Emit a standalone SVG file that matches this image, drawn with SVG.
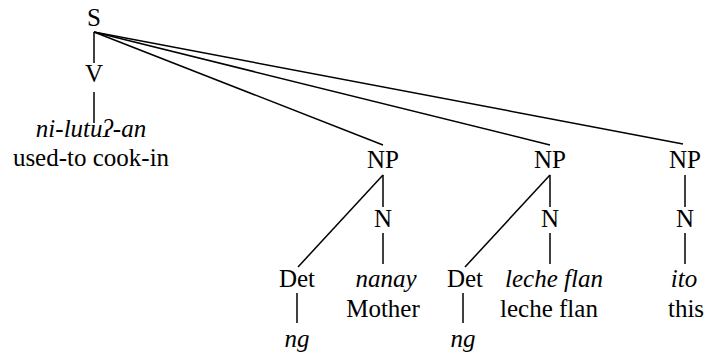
<svg xmlns="http://www.w3.org/2000/svg" width="705" height="356" viewBox="0 0 705 356">
<style>
text{font-family:"Liberation Serif","Times New Roman",serif;font-size:25px;fill:#000;text-anchor:middle}
.i{font-style:italic}
line{stroke:#000;stroke-width:1.5;fill:none}
</style>
<rect width="705" height="356" fill="#fff"/>
<g id="connectors">
<line x1="94" y1="32" x2="94" y2="63"/>
<line x1="94" y1="92" x2="94" y2="123"/>
<line x1="94" y1="32" x2="383" y2="145"/>
<line x1="94" y1="32" x2="550" y2="145"/>
<line x1="94" y1="32" x2="683" y2="144"/>
<line x1="383" y1="175" x2="383" y2="207"/>
<line x1="383" y1="233" x2="383" y2="264"/>
<line x1="383" y1="175" x2="298" y2="267"/>
<line x1="297" y1="293" x2="297" y2="323"/>
<line x1="550" y1="175" x2="550" y2="207"/>
<line x1="550" y1="233" x2="550" y2="264"/>
<line x1="550" y1="175" x2="465" y2="267"/>
<line x1="463" y1="293" x2="463" y2="323"/>
<line x1="685" y1="175" x2="685" y2="207"/>
<line x1="685" y1="233" x2="685" y2="264"/>
</g>
<g id="S"><text x="94" y="26">S</text></g>
<g id="V"><text x="94" y="82">V</text></g>
<g id="w-verb"><text class="i" x="91" y="137">ni-lutuʔ-an</text><text x="91" y="166">used-to cook-in</text></g>
<g id="NP1"><text x="383" y="168">NP</text></g>
<g id="N1"><text x="383" y="227">N</text></g>
<g id="Det1"><text x="297" y="287">Det</text></g>
<g id="ng1"><text class="i" x="297" y="347">ng</text></g>
<g id="w-nanay"><text class="i" x="386" y="287">nanay</text><text x="383" y="317">Mother</text></g>
<g id="NP2"><text x="550" y="168">NP</text></g>
<g id="N2"><text x="550" y="227">N</text></g>
<g id="Det2"><text x="465" y="287">Det</text></g>
<g id="ng2"><text class="i" x="463" y="347">ng</text></g>
<g id="w-leche"><text class="i" x="554" y="287">leche flan</text><text x="549" y="317">leche flan</text></g>
<g id="NP3"><text x="685" y="168">NP</text></g>
<g id="N3"><text x="685" y="227">N</text></g>
<g id="w-ito"><text class="i" x="684" y="287">ito</text><text x="686" y="317">this</text></g>
</svg>
